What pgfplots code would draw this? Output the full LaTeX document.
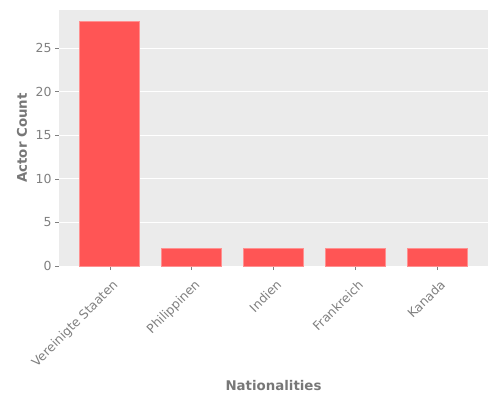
\documentclass[border=0pt]{standalone}
\usepackage{pgfplots}
\pgfplotsset{compat=1.18}
\usepackage{fontspec}
\setmainfont{DejaVu Sans}
\definecolor{panel}{HTML}{EBEBEB}
\definecolor{barred}{HTML}{FF5555}
\definecolor{baredge}{HTML}{FF9090}
\definecolor{txtgray}{HTML}{777777}
\definecolor{tickgray}{HTML}{808080}
\begin{document}
\begin{tikzpicture}
\begin{axis}[
    scale only axis,
    width=429bp, height=256bp,
    xmin=-0.62, xmax=4.62,
    ymin=0, ymax=29.36,
    xtick={0,1,2,3,4},
    xticklabels={Vereinigte Staaten, Philippinen, Indien, Frankreich, Kanada},
    ytick={0,5,10,15,20,25},
    axis background/.style={fill=panel},
    axis line style={draw=none},
    ymajorgrids=true,
    grid style={white, line width=0.8bp},
    tick align=outside,
    major tick length=4bp,
    tick style={tickgray, line width=0.5bp},
    xtick pos=bottom, ytick pos=left,
    /pgf/number format/assume math mode=true,
    ticklabel style={font=\fontsize{12.5}{14}\selectfont, text=tickgray},
    xticklabel style={yshift=-6bp, xshift=2bp, rotate=45, anchor=north east, inner sep=2bp},
    xlabel={Nationalities},
    ylabel={Actor Count},
    label style={font=\fontsize{13.4}{15}\selectfont\bfseries, text=txtgray},
    xlabel style={at={(axis description cs:0.5,-0.465)}, anchor=center},
    ylabel style={at={(axis description cs:-0.0862,0.5)}, anchor=center},
]
\addplot[ybar, bar width=0.73, fill=barred, draw=baredge, line width=0.8bp]
    coordinates {(0,28) (1,2) (2,2) (3,2) (4,2)};
\end{axis}
\pgfresetboundingbox
\useasboundingbox (-59bp,-134bp) rectangle (441bp,266bp);
\end{tikzpicture}
\end{document}
